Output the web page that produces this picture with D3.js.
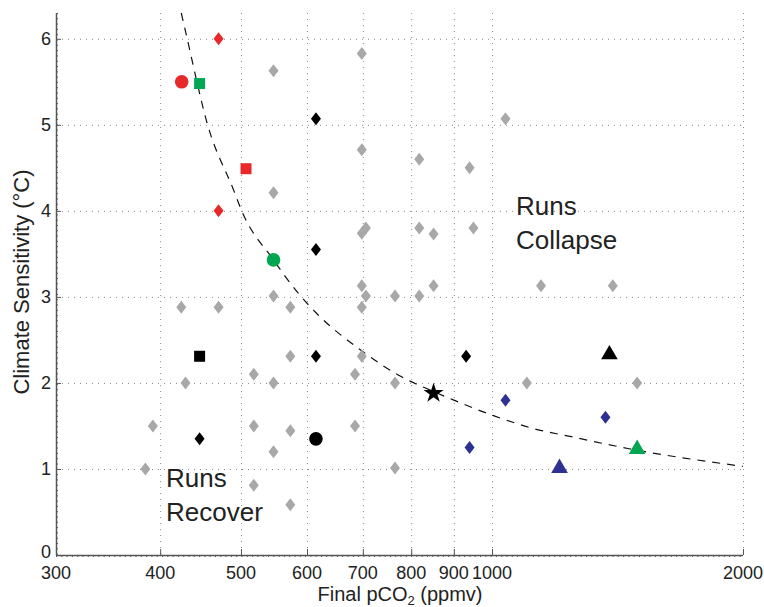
<!DOCTYPE html>
<html>
<head>
<meta charset="utf-8">
<script src="https://cdn.jsdelivr.net/npm/d3@7"></script>
<style>
    body { margin: 0; background: #fff; }
    svg { display: block; font-family: 'Liberation Sans', Arial, Helvetica, sans-serif; }
</style>
</head>
<body>
<svg id="chart"></svg>
<script>
// ---- data: [final pCO2 (ppmv), climate sensitivity (°C)]
const xTicks = [300, 400, 500, 600, 700, 800, 900, 1000, 2000];
const yTicks = [0, 1, 2, 3, 4, 5, 6];

const grayRuns = [
    [698, 5.83], [547, 5.63], [1038, 5.07], [698, 4.71], [818, 4.60], [940, 4.50],
    [547, 4.21], [706, 3.80], [698, 3.74], [818, 3.80], [851, 3.73], [950, 3.80],
    [698, 3.13], [851, 3.13], [1145, 3.13], [1396, 3.13],
    [547, 3.01], [706, 3.01], [765, 3.01], [818, 3.01],
    [424, 2.88], [470, 2.88], [573, 2.88], [698, 2.88],
    [573, 2.31], [698, 2.31], [518, 2.10], [685, 2.10],
    [429, 2.00], [547, 2.00], [765, 2.00], [1101, 2.00], [1493, 2.00],
    [392, 1.50], [518, 1.50], [573, 1.445], [685, 1.50], [547, 1.20],
    [384, 1.00], [765, 1.01], [518, 0.81], [573, 0.585]
];
const blackDiamonds = [[615, 5.07], [615, 3.55], [615, 2.31], [446, 1.35], [931, 2.31]];
const blueDiamonds = [[1038, 1.80], [1368, 1.60], [940, 1.25]];
const redDiamonds = [[470, 6.0], [470, 4.0]];

const circles = [
    { x: 424.5, y: 5.50, color: '#e8292c' },
    { x: 547, y: 3.43, color: '#00a651' },
    { x: 615, y: 1.35, color: '#000000' }
];
const squares = [
    { x: 446, y: 5.48, color: '#00a651' },
    { x: 507, y: 4.49, color: '#e8292c' },
    { x: 446, y: 2.31, color: '#000000' }
];
const triangles = [
    { x: 1383, y: 2.33, color: '#000000' },
    { x: 1205, y: 1.01, color: '#2e3192' },
    { x: 1493, y: 1.23, color: '#00a651' }
];
const stars = [{ x: 851, y: 1.88, color: '#000000' }];

// dashed threshold curve
const thresholdCurve = [
    [424, 6.30], [431, 6.00], [456, 5.00], [490, 4.24], [501, 4.00], [547, 3.43],
    [586, 3.04], [616, 2.81], [701, 2.36], [776, 2.08], [851, 1.90], [900, 1.80],
    [1004, 1.62], [1121, 1.47], [1252, 1.37], [1460, 1.235], [2000, 1.03]
];

// ---- layout
const width = 764;
const height = 607;
const margin = { top: 13, right: 21, bottom: 52, left: 56 };
const innerW = width - margin.left - margin.right;
const innerH = height - margin.top - margin.bottom;

const root = d3.select('#chart')
    .attr('width', width)
    .attr('height', height);

const svg = root.append('g')
    .attr('transform', `translate(${margin.left},${margin.top})`);

const x = d3.scaleLog()
    .domain([300, 2000])
    .range([0, innerW]);

const y = d3.scaleLinear()
    .domain([0, 6.3])
    .range([innerH, 0]);

// grid
svg.append('g')
    .selectAll('line')
    .data(xTicks.slice(1))
    .enter().append('line')
    .attr('x1', d => x(d) + 0.5).attr('x2', d => x(d) + 0.5)
    .attr('y1', 0).attr('y2', innerH)
    .attr('stroke', '#8a8a8a')
    .attr('stroke-dasharray', '1,5');

svg.append('g')
    .selectAll('line')
    .data(yTicks.slice(1))
    .enter().append('line')
    .attr('x1', 0).attr('x2', innerW)
    .attr('y1', d => y(d) + 0.5).attr('y2', d => y(d) + 0.5)
    .attr('stroke', '#8a8a8a')
    .attr('stroke-dasharray', '1,5');

// threshold curve
const line = d3.line()
    .x(d => x(d[0]))
    .y(d => y(d[1]))
    .curve(d3.curveMonotoneX);

svg.append('path')
    .datum(thresholdCurve)
    .attr('fill', 'none')
    .attr('stroke', '#111')
    .attr('stroke-width', 1.2)
    .attr('stroke-dasharray', '8,7')
    .attr('d', line);

// markers
function diamond(hw, hh) {
    return `M0,${-hh}L${hw},0L0,${hh}L${-hw},0Z`;
}

function drawDiamonds(data, color) {
    svg.append('g')
        .selectAll('path')
        .data(data)
        .enter().append('path')
        .attr('transform', d => `translate(${x(d[0])},${y(d[1])})`)
        .attr('d', diamond(5, 6.5))
        .attr('fill', color);
}

drawDiamonds(grayRuns, '#a8a8a8');
drawDiamonds(blackDiamonds, '#000');
drawDiamonds(blueDiamonds, '#2e3192');
drawDiamonds(redDiamonds, '#e8292c');

function drawSymbols(data, type, size) {
    svg.append('g')
        .selectAll('path')
        .data(data)
        .enter().append('path')
        .attr('transform', d => `translate(${x(d.x)},${y(d.y)})`)
        .attr('d', d3.symbol().type(type).size(size))
        .attr('fill', d => d.color);
}

drawSymbols(circles, d3.symbolCircle, 145);
drawSymbols(squares, d3.symbolSquare, 121);
drawSymbols(triangles, d3.symbolTriangle, 120);
drawSymbols(stars, d3.symbolStar, 125);

// axes
const axisColor = '#555';

svg.append('line')
    .attr('x1', 0).attr('x2', innerW)
    .attr('y1', innerH + 0.5).attr('y2', innerH + 0.5)
    .attr('stroke', axisColor).attr('stroke-width', 1.5);
svg.append('line')
    .attr('x1', 0).attr('x2', innerW)
    .attr('y1', innerH + 1.5).attr('y2', innerH + 1.5)
    .attr('stroke', axisColor)
    .attr('stroke-dasharray', '1,4.3');

svg.append('line')
    .attr('x1', 0.5).attr('x2', 0.5)
    .attr('y1', 0).attr('y2', innerH)
    .attr('stroke', axisColor).attr('stroke-width', 1.5);
svg.append('line')
    .attr('x1', 1.5).attr('x2', 1.5)
    .attr('y1', 0).attr('y2', innerH)
    .attr('stroke', axisColor)
    .attr('stroke-dasharray', '1,4.3');

svg.append('g')
    .selectAll('line')
    .data(xTicks.slice(1))
    .enter().append('line')
    .attr('x1', d => x(d) + 0.5).attr('x2', d => x(d) + 0.5)
    .attr('y1', innerH).attr('y2', innerH - 6)
    .attr('stroke', axisColor);

svg.append('g')
    .selectAll('line')
    .data(yTicks.slice(1))
    .enter().append('line')
    .attr('x1', 0).attr('x2', 5)
    .attr('y1', d => y(d) + 0.5).attr('y2', d => y(d) + 0.5)
    .attr('stroke', axisColor);

svg.append('g')
    .selectAll('text')
    .data(xTicks)
    .enter().append('text')
    .attr('x', d => x(d))
    .attr('y', innerH + 23.5)
    .attr('text-anchor', 'middle')
    .style('font-size', '18px')
    .style('fill', '#222')
    .text(d => d);

svg.append('g')
    .selectAll('text')
    .data(yTicks)
    .enter().append('text')
    .attr('x', -5)
    .attr('y', d => y(d) + (d === 0 ? 2.5 : 6.5))
    .attr('text-anchor', 'end')
    .style('font-size', '18px')
    .style('fill', '#222')
    .text(d => d);

// titles
const xTitle = svg.append('text')
    .attr('x', 400 - margin.left)
    .attr('y', innerH + 46)
    .attr('text-anchor', 'middle')
    .style('font-size', '20px')
    .style('fill', '#222');
xTitle.append('tspan').text('Final pCO');
xTitle.append('tspan').attr('dy', 4).style('font-size', '13px').text('2');
xTitle.append('tspan').attr('dy', -4).text(' (ppmv)');

svg.append('text')
    .attr('transform', `translate(${29 - margin.left},${282 - margin.top}) rotate(-90)`)
    .attr('text-anchor', 'middle')
    .style('font-size', '22px')
    .style('fill', '#222')
    .text('Climate Sensitivity (°C)');

// region labels
function regionLabel(lines, px, py) {
    const t = svg.append('text')
        .attr('x', px)
        .attr('y', py)
        .style('font-size', '26px')
        .style('fill', '#222');
    lines.forEach((s, i) => {
        t.append('tspan').attr('x', px).attr('dy', i === 0 ? 0 : 34).text(s);
    });
}

regionLabel(['Runs', 'Collapse'], 516 - margin.left, 215 - margin.top);
regionLabel(['Runs', 'Recover'], 166 - margin.left, 487 - margin.top);
</script>
</body>
</html>
